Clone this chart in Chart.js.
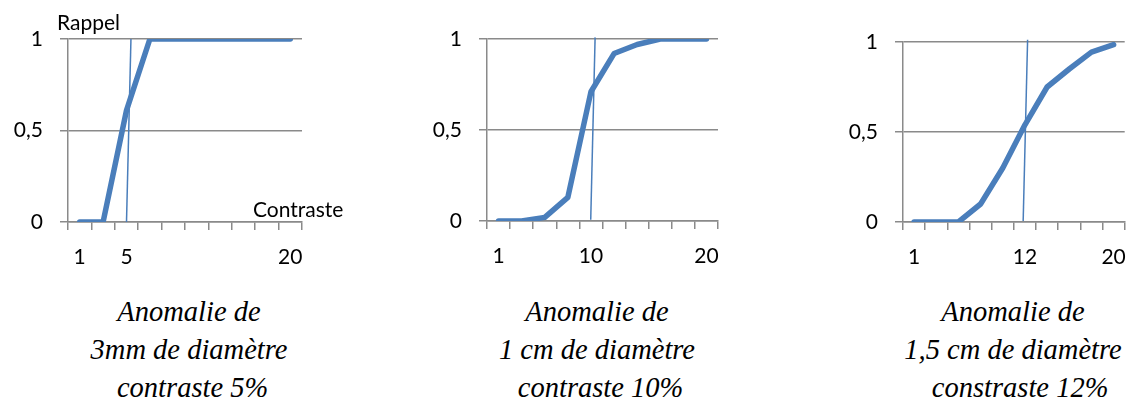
<!DOCTYPE html>
<html>
<head>
<meta charset="utf-8">
<script src="https://cdn.jsdelivr.net/npm/chart.js@4/dist/chart.umd.min.js"></script>
<style>
  html, body { margin: 0; padding: 0; background: #fff; }
  body { width: 1141px; height: 403px; position: relative; overflow: hidden; }
  canvas { position: absolute; top: 0; }
  .axt { position: absolute; font-family: Lato, sans-serif; font-size: 21px; line-height: 25px; color: #000; white-space: nowrap; }
  .cap { position: absolute; width: 320px; text-align: center; font-family: "Liberation Serif", "Times New Roman", serif; font-style: italic; font-size: 28.5px; line-height: 38px; color: #000; white-space: pre; }
</style>
</head>
<body>
<canvas id="c1" width="320" height="280" style="left:0px"></canvas>
<canvas id="c2" width="320" height="280" style="left:419px"></canvas>
<canvas id="c3" width="306" height="280" style="left:835px"></canvas>

<div class="axt" style="left:57px; top:9px;">Rappel</div>
<div class="axt" style="left:253px; top:196px;">Contraste</div>

<div class="cap" style="left:29px; top:293px;">Anomalie de
3mm de diamètre
 contraste 5%</div>
<div class="cap" style="left:437px; top:293px;">Anomalie de
1 cm de diamètre
 contraste 10%</div>
<div class="cap" style="left:853px; top:293px;">Anomalie de
1,5 cm de diamètre
  constraste 12%</div>

<script>
// Tick labels (category axis, contrast in %)
const labels1 = ['1', '', '5', '', '', '', '', '', '', '20'];
const labels2 = ['1', '', '', '', '10', '', '', '', '', '20'];
const labels3 = ['1', '', '', '', '', '12', '', '', '', '20'];

// Recall values per category
const rappel1 = [0, 0, 0.61, 1, 1, 1, 1, 1, 1, 1];
const rappel2 = [0, 0, 0.02, 0.13, 0.71, 0.92, 0.97, 1, 1, 1];
const rappel3 = [0, 0, 0, 0.10, 0.30, 0.54, 0.75, 0.85, 0.944, 0.985];

// Threshold marker line (in category-index units)
const seuil1 = [{x: 2.00, y: 0}, {x: 2.19, y: 1}];
const seuil2 = [{x: 3.99, y: 0.007}, {x: 4.18, y: 1.009}];
const seuil3 = [{x: 4.92, y: 0.005}, {x: 5.12, y: 1.013}];

const GRID = '#8a8a8a';
const BLUE = '#4A7EBB';

function makeChart(id, labels, values, seuil, geo) {
  const ctx = document.getElementById(id);
  return new Chart(ctx, {
    type: 'line',
    data: {
      labels: labels,
      datasets: [
        {
          data: seuil,
          xAxisID: 'xt',
          yAxisID: 'y',
          borderColor: BLUE,
          borderWidth: 1.5,
          pointRadius: 0,
          tension: 0,
          clip: false,
          order: 0
        },
        {
          data: values,
          xAxisID: 'x',
          yAxisID: 'y',
          borderColor: BLUE,
          borderWidth: 5.5,
          pointRadius: 0,
          tension: 0,
          borderCapStyle: 'round',
          borderJoinStyle: 'round',
          order: 1
        }
      ]
    },
    options: {
      responsive: false,
      animation: false,
      devicePixelRatio: 1,
      layout: { padding: { top: geo.top, right: geo.right, left: 0, bottom: 0 } },
      plugins: { legend: { display: false }, tooltip: { enabled: false } },
      scales: {
        x: {
          type: 'category',
          position: 'bottom',
          offset: true,
          grid: { offset: true, drawOnChartArea: false, drawTicks: true, tickLength: 8, color: GRID, lineWidth: 1.5 },
          border: { display: true, color: GRID, width: 1.5 },
          ticks: { autoSkip: false, maxRotation: 0, minRotation: 0, padding: 15, color: '#000', font: { family: 'Lato', size: 21 } },
          afterFit: (s) => { s.height = geo.xh; }
        },
        xt: {
          type: 'linear',
          position: 'bottom',
          display: false,
          min: -0.5,
          max: 9.5
        },
        y: {
          type: 'linear',
          position: 'left',
          min: 0,
          max: 1,
          grid: { drawTicks: true, tickLength: 8, color: GRID, lineWidth: 1.5 },
          border: { display: true, color: GRID, width: 1.5 },
          ticks: {
            stepSize: 0.5,
            padding: 17,
            color: '#000',
            font: { family: 'Lato', size: 21 },
            callback: (v) => String(v).replace('.', ',')
          },
          afterFit: (s) => { s.width = geo.yw; }
        }
      }
    }
  });
}

makeChart('c1', labels1, rappel1, seuil1, { top: 39, right: 18, xh: 58, yw: 68 });
makeChart('c2', labels2, rappel2, seuil2, { top: 39, right: 21, xh: 59, yw: 68 });
makeChart('c3', labels3, rappel3, seuil3, { top: 42, right: 4, xh: 58, yw: 68 });
</script>
</body>
</html>
